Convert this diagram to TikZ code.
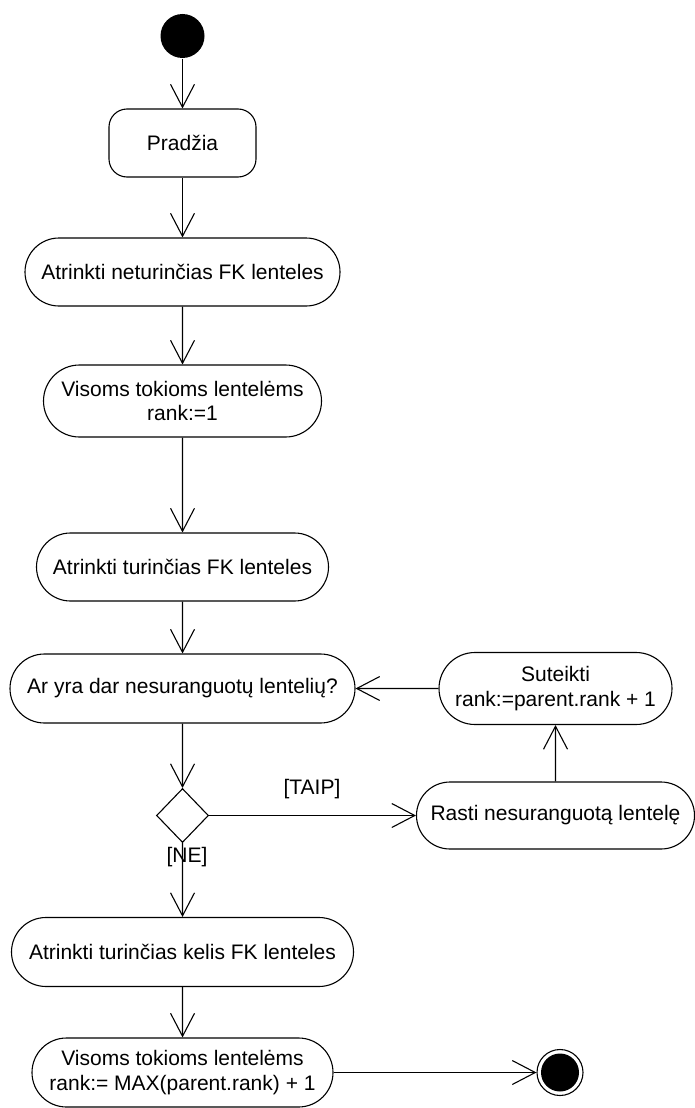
\documentclass[tikz,border=0pt]{standalone}
\usepackage{fontspec}
\setmainfont{Liberation Sans}
\usetikzlibrary{arrows.meta,shapes.misc,shapes.geometric}
\begin{document}
\begin{tikzpicture}[x=1pt,y=-1pt,
  line width=1.1pt,
  every node/.style={font=\fontsize{21}{24.5}\selectfont, align=center, inner sep=0pt},
  action/.style={draw, rounded rectangle, minimum height=#1},
  action/.default=68pt,
  flow/.style={-{Straight Barb[length=23pt,width=24pt,line width=1.1pt]}},
  guard/.style={font=\fontsize{21}{24.5}\selectfont}
]
\useasboundingbox (0,0) rectangle (695,1108);

% initial and final states
\node[circle, fill=black, minimum size=44pt] (start) at (182.5,36) {};
\node[circle, draw, minimum size=46pt] (stop) at (560,1072.5) {};
\fill (stop.center) circle[radius=19pt];

% activities
\node[draw, rounded corners=18pt, minimum width=147pt, minimum height=68pt] (pradzia) at (182.5,143) {Pradžia};
\node[action, minimum width=315pt] (neturincias) at (182.5,272) {Atrinkti neturinčias FK lenteles};
\node[action=72pt, minimum width=278pt] (rankone) at (182.5,401) {Visoms tokioms lentelėms\\rank:=1};
\node[action, minimum width=292pt] (turincias) at (182.5,567) {Atrinkti turinčias FK lenteles};
\node[action=69pt, minimum width=345pt] (arYra) at (182.5,688.5) {Ar yra dar nesuranguotų lentelių?};
\node[draw, diamond, minimum width=52pt, minimum height=54pt] (dec) at (182.5,815.5) {};
\node[action=67pt, minimum width=278pt] (rasti) at (555.5,815.5) {Rasti nesuranguotą lentelę};
\node[action=72pt, minimum width=233pt] (suteikti) at (555.5,688.5) {Suteikti\\rank:=parent.rank + 1};
\node[action=69pt, minimum width=342pt] (kelis) at (182.5,952) {Atrinkti turinčias kelis FK lenteles};
\node[action=69pt, minimum width=301pt] (maxrank) at (182.5,1072.5) {Visoms tokioms lentelėms\\rank:= MAX(parent.rank) + 1};

% guards
\node[guard] (taip) at (312,789) {[TAIP]};
\node[guard] (ne) at (187,857) {[NE]};

% control flow
\draw[flow] (start) -- (pradzia);
\draw[flow] (pradzia.south) -- (neturincias.north);
\draw[flow] (neturincias) -- (rankone);
\draw[flow] (rankone) -- (turincias);
\draw[flow] (turincias) -- (arYra);
\draw[flow] (arYra) -- (dec.north);
\draw[flow] (dec.east) -- (rasti.west |- dec.east);
\draw[flow] (rasti) -- (suteikti);
\draw[flow] (suteikti) -- (arYra);
\draw[flow] (dec.south) -- (kelis);
\draw[flow] (kelis) -- (maxrank);
\draw[flow] (maxrank.east) -- (stop.west);
\end{tikzpicture}
\end{document}
